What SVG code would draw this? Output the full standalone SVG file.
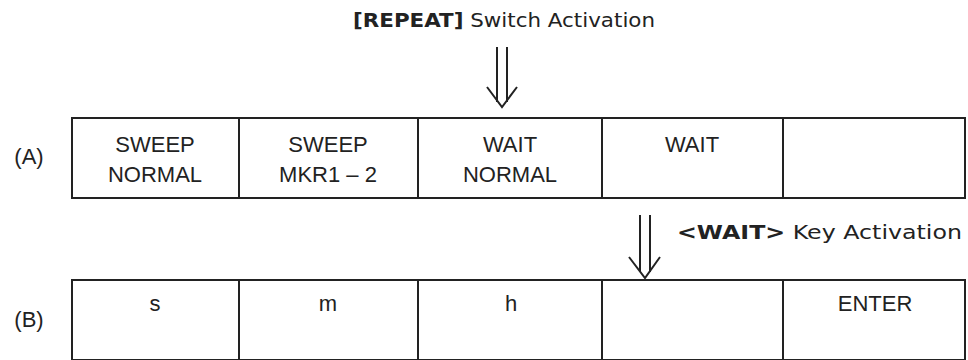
<svg xmlns="http://www.w3.org/2000/svg" width="968" height="360" viewBox="0 0 968 360">
<style>
.t{font-family:"Liberation Sans",Arial,sans-serif;font-size:22px;fill:#222;text-anchor:middle}
.l{font-family:"DejaVu Sans","Liberation Sans",sans-serif;font-size:20px;fill:#222}
.b{font-weight:bold}
.cell{fill:#fff;stroke:#222;stroke-width:2}
.arr{fill:none;stroke:#222;stroke-width:2;stroke-linejoin:miter}
</style>
<rect width="968" height="360" fill="#fff"/>
<text class="l" x="353" y="27" textLength="302" lengthAdjust="spacingAndGlyphs"><tspan class="b">[REPEAT]</tspan> Switch Activation</text>
<text class="t" x="29" y="164">(A)</text>
<text class="t" x="29" y="327">(B)</text>
<text class="l" x="677" y="239" textLength="285" lengthAdjust="spacingAndGlyphs"><tspan class="b">&lt;WAIT&gt;</tspan> Key Activation</text>
<g id="connectors">
<g id="arrow-repeat">
<path class="arr" d="M497 47V102M507 47V102M487 87L502 107L517 87"/>
</g>
<g id="arrow-wait">
<path class="arr" d="M640 215V272M650 215V272M629 257L645 278L660 257"/>
</g>
</g>
<g id="row-A">
<g id="A1"><rect class="cell" x="72" y="118" width="167" height="80"/><text class="t" x="155" y="152">SWEEP</text><text class="t" x="155" y="182">NORMAL</text></g>
<g id="A2"><rect class="cell" x="239" y="118" width="179" height="80"/><text class="t" x="328" y="152">SWEEP</text><text class="t" x="328" y="182">MKR1 – 2</text></g>
<g id="A3"><rect class="cell" x="418" y="118" width="184" height="80"/><text class="t" x="510" y="152">WAIT</text><text class="t" x="510" y="182">NORMAL</text></g>
<g id="A4"><rect class="cell" x="602" y="118" width="181" height="80"/><text class="t" x="692" y="152">WAIT</text></g>
<g id="A5"><rect class="cell" x="783" y="118" width="182" height="80"/></g>
</g>
<g id="row-B">
<g id="B1"><rect class="cell" x="72" y="280" width="167" height="80"/><text class="t" x="155" y="311">s</text></g>
<g id="B2"><rect class="cell" x="239" y="280" width="179" height="80"/><text class="t" x="328" y="311">m</text></g>
<g id="B3"><rect class="cell" x="418" y="280" width="184" height="80"/><text class="t" x="511" y="311">h</text></g>
<g id="B4"><rect class="cell" x="602" y="280" width="181" height="80"/></g>
<g id="B5"><rect class="cell" x="783" y="280" width="182" height="80"/><text class="t" x="875" y="311">ENTER</text></g>
</g>
</svg>
